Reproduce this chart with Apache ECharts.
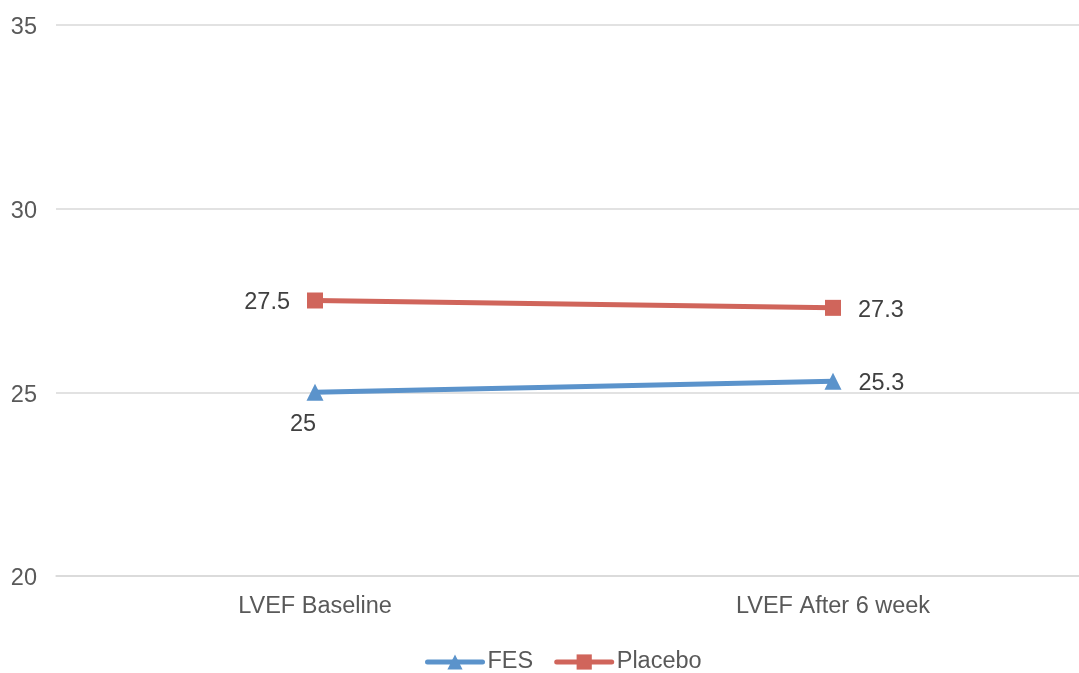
<!DOCTYPE html>
<html>
<head>
<meta charset="utf-8">
<script src="https://cdn.jsdelivr.net/npm/echarts@6/dist/echarts.min.js"></script>
<style>
  html, body { margin: 0; padding: 0; background: #fff; }
  #chart { width: 1079px; height: 673px; }
</style>
</head>
<body>
<div id="chart"></div>
<script>
// LVEF before and after six weeks, FES vs placebo
const categories = ['LVEF Baseline', 'LVEF After 6 week'];
const fesValues = [25, 25.3];
const placeboValues = [27.5, 27.3];
const yTicks = { min: 20, max: 35, interval: 5 };

const chart = echarts.init(document.getElementById('chart'));
const font = 'Helvetica, "Liberation Sans", Arial, sans-serif';
const blue = '#5b93cb';
const red = '#d0655b';

chart.setOption({
  animation: false,
  textStyle: { fontFamily: font },
  grid: {
    left: 56, width: 1036, top: 25, bottom: 97,
    containLabel: false,
    outerBoundsMode: 'none'
  },
  legend: {
    top: 645,
    left: 420,
    itemWidth: 55,
    itemHeight: 19,
    itemGap: 21,
    textStyle: { fontSize: 23.5, color: '#595959', fontFamily: font },
    lineStyle: { width: 5, cap: 'round' },
    data: ['FES', 'Placebo']
  },
  xAxis: {
    type: 'category',
    data: categories,
    boundaryGap: true,
    axisLine: { lineStyle: { color: '#d9d9d9', width: 1.5 } },
    axisTick: { show: false },
    axisLabel: { color: '#595959', fontSize: 23.5, margin: 19, fontFamily: font }
  },
  yAxis: {
    type: 'value',
    min: yTicks.min,
    max: yTicks.max,
    interval: yTicks.interval,
    axisLine: { show: false },
    axisTick: { show: false },
    splitLine: { lineStyle: { color: '#d9d9d9', width: 1.5 } },
    axisLabel: {
      color: '#595959', fontSize: 23.5, margin: 19, fontFamily: font,
      verticalAlign: 'top', lineHeight: 6
    }
  },
  series: [
    {
      name: 'FES',
      type: 'line',
      symbol: 'triangle',
      symbolSize: 17,
      lineStyle: { color: blue, width: 5, cap: 'round' },
      itemStyle: { color: blue },
      label: { show: true, fontSize: 23.5, color: '#404040', fontFamily: font },
      data: [
        { value: fesValues[0], label: { position: 'bottom', distance: 12, offset: [-12, 0] } },
        { value: fesValues[1], label: { position: 'right', distance: 17, offset: [0, 2] } }
      ]
    },
    {
      name: 'Placebo',
      type: 'line',
      symbol: 'rect',
      symbolSize: 16,
      lineStyle: { color: red, width: 5, cap: 'round' },
      itemStyle: { color: red },
      label: { show: true, fontSize: 23.5, color: '#404040', fontFamily: font },
      data: [
        { value: placeboValues[0], label: { position: 'left', distance: 17, offset: [0, 2] } },
        { value: placeboValues[1], label: { position: 'right', distance: 17, offset: [0, 3] } }
      ]
    }
  ]
});
</script>
</body>
</html>
